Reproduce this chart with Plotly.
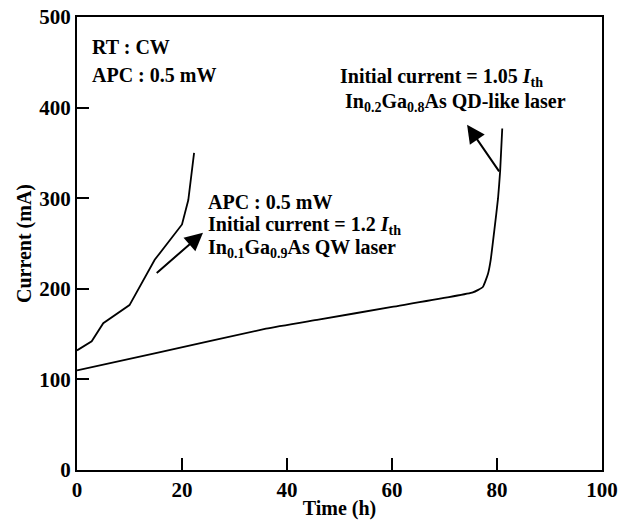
import plotly.graph_objects as go

# QW laser (In0.1Ga0.9As) degradation curve
qw_time = [0, 2.8, 5, 10, 14.8, 20, 21.2, 22.3]
qw_current = [132, 142, 162, 182, 232, 271, 298, 350]

# QD-like laser (In0.2Ga0.8As) degradation curve
qd_time = [0, 15, 36, 46, 60, 75.4, 77.3, 78.3, 78.8, 79.5, 80.2, 80.6, 81]
qd_current = [110, 129, 156, 166, 180, 196, 202, 217, 232, 265, 300, 330, 377]

x_ticks = [0, 20, 40, 60, 80, 100]
y_ticks = [0, 100, 200, 300, 400, 500]

FONT = "Liberation Serif, Times New Roman, serif"
fs = 21

fig = go.Figure()
fig.add_trace(go.Scatter(x=qw_time, y=qw_current, mode="lines",
                         line=dict(color="black", width=1.8), showlegend=False))
fig.add_trace(go.Scatter(x=qd_time, y=qd_current, mode="lines", line_shape="spline",
                         line=dict(color="black", width=1.8, smoothing=0.4), showlegend=False))

def txt(x, y, s):
    fig.add_annotation(x=x, y=y, xref="x", yref="y", text=s, showarrow=False,
                       xanchor="left", yanchor="middle",
                       font=dict(family=FONT, size=fs - 1, color="black", weight="bold"))

txt(2.5, 467, "RT : CW")
txt(2.5, 436, "APC : 0.5 mW")
txt(24.6, 296, "APC : 0.5 mW")
txt(24.6, 270, "Initial current = 1.2 <i>I</i><sub>th</sub>")
txt(24.6, 244, "In<sub>0.1</sub>Ga<sub>0.9</sub>As QW laser")
txt(49.8, 433, "Initial current = 1.05 <i>I</i><sub>th</sub>")
txt(50.6, 406, "In<sub>0.2</sub>Ga<sub>0.8</sub>As QD-like laser")

# arrows
fig.add_annotation(x=24, y=262, ax=14.9, ay=216, xref="x", yref="y", axref="x", ayref="y",
                   text="", showarrow=True, arrowhead=2, arrowsize=1.8, arrowwidth=2,
                   arrowcolor="black")
fig.add_annotation(x=74.3, y=381, ax=80.6, ay=328, xref="x", yref="y", axref="x", ayref="y",
                   text="", showarrow=True, arrowhead=2, arrowsize=1.8, arrowwidth=2,
                   arrowcolor="black")

axis_common = dict(showgrid=False, zeroline=False, showline=True, linecolor="black",
                   linewidth=2, mirror=True, ticks="inside", ticklen=12, tickwidth=2,
                   tickcolor="black", automargin=False,
                   tickfont=dict(family=FONT, size=fs, color="black", weight="bold"))

fig.update_xaxes(range=[0, 100], tickvals=x_ticks, ticktext=[str(v) for v in x_ticks],
                 title=dict(text="Time (h)", standoff=0,
                            font=dict(family=FONT, size=fs - 1, color="black", weight="bold")),
                 **axis_common)
fig.update_yaxes(range=[0, 500], tickvals=y_ticks, ticktext=[str(v) for v in y_ticks],
                 title=dict(text="Current (mA)", standoff=2,
                            font=dict(family=FONT, size=fs - 1, color="black", weight="bold")),
                 **axis_common)

fig.update_layout(width=630, height=525, margin=dict(l=77, r=28, t=17, b=55),
                  plot_bgcolor="white", paper_bgcolor="white")

fig.write_html("out.html")
